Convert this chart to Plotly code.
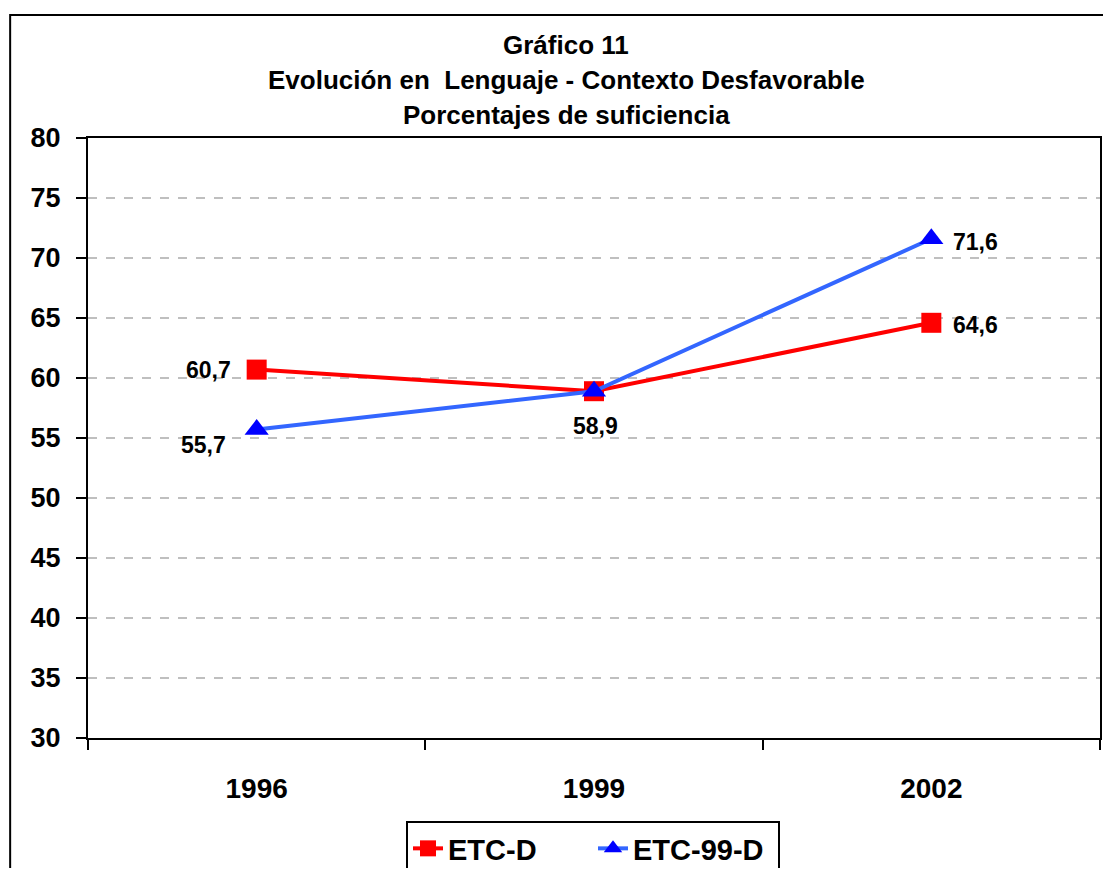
import plotly.graph_objects as go

years = ["1996", "1999", "2002"]
etc_d = [60.7, 58.9, 64.6]
etc_99_d = [55.7, 58.9, 71.6]

title_lines = ["Gráfico 11", "Evolución en  Lenguaje - Contexto Desfavorable",
               "Porcentajes de suficiencia"]

FONT = "Liberation Sans, Arial, sans-serif"

# figure is 1095x860 so it fits inside the page's 8px body margin
# screen -> paper helpers (plot area on screen: x 88..1102, y 138..738)
def px(x):
    return (x - 88) / 1014.0


def py(y):
    return (738 - y) / 600.0


def lbl(v):
    return ("%.1f" % v).replace(".", ",")


fig = go.Figure()

fig.add_trace(go.Scatter(
    x=years, y=etc_d, name="ETC-D", mode="lines+markers",
    line=dict(color="#FF0000", width=4),
    marker=dict(symbol="square", size=20, color="#FF0000"),
    cliponaxis=False,
))
fig.add_trace(go.Scatter(
    x=years, y=etc_99_d, name="ETC-99-D", mode="lines+markers",
    line=dict(color="#3366FF", width=4),
    marker=dict(symbol="triangle-up", size=21, color="#0000FF"),
    cliponaxis=False,
))

# data labels: (series, index, xanchor, xshift, yshift)
lab_font = dict(family=FONT, size=23, color="black")
label_spec = [
    (etc_d, 0, "right", -24, 0),
    (etc_d, 2, "left", 20, -2),
    (etc_99_d, 0, "right", -29, -15),
    (etc_99_d, 1, "center", 1, -35),
    (etc_99_d, 2, "left", 20, -3),
]
for series, i, xa, xs, ys in label_spec:
    # category axis: position by category index
    fig.add_annotation(x=i, y=series[i], text="<b>%s</b>" % lbl(series[i]),
                       showarrow=False, xanchor=xa, yanchor="middle",
                       xshift=xs, yshift=ys, font=lab_font)

for i, t in enumerate(title_lines):
    fig.add_annotation(text="<b>%s</b>" % t, xref="paper", yref="paper",
                       x=px(567), y=py(45 + i * 35),
                       showarrow=False, xanchor="center", yanchor="middle",
                       font=dict(family=FONT, size=26, color="black"))

# outer chart border
fig.add_shape(type="rect", xref="paper", yref="paper",
              x0=px(10), x1=px(1130), y0=py(900), y1=py(15),
              line=dict(color="black", width=2), layer="below")

fig.update_layout(
    width=1095, height=860,
    margin=dict(l=80, r=1, t=130, b=130),
    paper_bgcolor="white", plot_bgcolor="white",
    font=dict(family=FONT, color="black"),
    showlegend=True,
    legend=dict(orientation="h", x=px(594), xanchor="center",
                yref="container", y=1 - (821 - 8) / 860.0, yanchor="top",
                bordercolor="black", borderwidth=2,
                entrywidth=140, entrywidthmode="pixels",
                font=dict(family=FONT, size=29, color="black", weight="bold"),
                tracegroupgap=0),
    xaxis=dict(type="category", range=[-0.5, 2.5], tickson="boundaries",
               ticks="outside", ticklen=10, tickwidth=2, tickcolor="black",
               showline=True, linecolor="black", linewidth=2, mirror=True,
               showgrid=False, ticklabelstandoff=24,
               tickfont=dict(family=FONT, size=28, color="black", weight="bold")),
    yaxis=dict(range=[30, 80], dtick=5, ticks="outside", ticklen=10, tickwidth=2,
               tickcolor="black", showline=True, linecolor="black", linewidth=2,
               mirror=True, showgrid=True, gridcolor="#BFBFBF", gridwidth=2,
               griddash="dash", zeroline=False, ticklabelstandoff=10,
               tickfont=dict(family=FONT, size=27, color="black", weight="bold")),
)

fig.write_html("out.html")
